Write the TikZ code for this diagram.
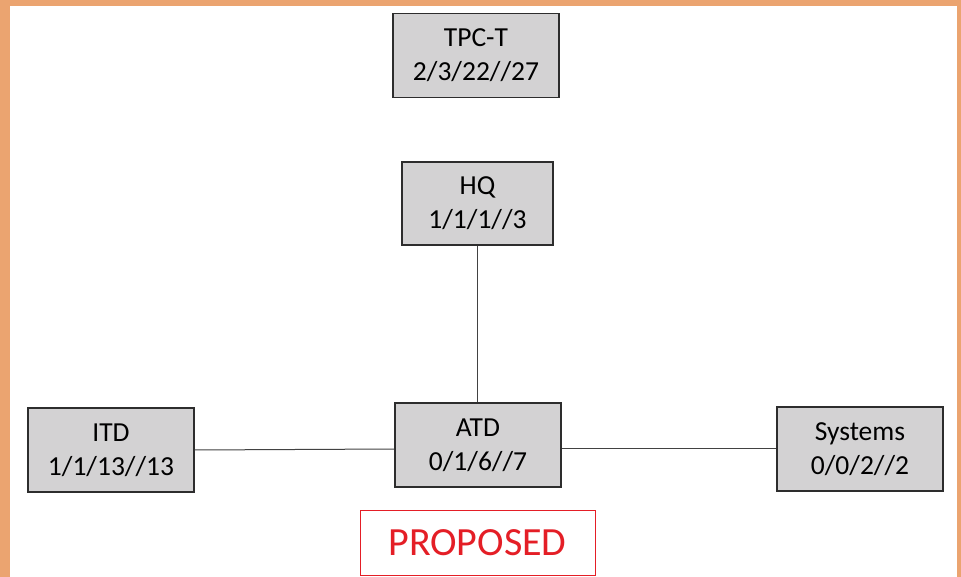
\documentclass[tikz,border=0pt]{standalone}
\usepackage{fontspec}
\setmainfont{Carlito}
\definecolor{frameorange}{RGB}{235,164,112}
\definecolor{boxgray}{RGB}{211,210,211}
\definecolor{boxline}{RGB}{45,45,45}
\definecolor{propred}{RGB}{228,30,38}
\begin{document}
\begin{tikzpicture}[x=1pt,y=-1pt,
  unit/.style={draw=boxline, fill=boxgray, line width=1.3pt, rectangle,
    align=center, inner sep=0pt, font=\fontsize{27.5}{34}\selectfont, text=black},
  link/.style={draw=boxline!90, line width=1pt},
  stamp/.style={draw=propred, line width=1pt, text=propred, inner sep=0pt,
    font=\fontsize{40}{44}\selectfont}]
\useasboundingbox (0,0) rectangle (961,577);
\fill[frameorange] (0,0) rectangle (961,577);
\fill[white] (10,6) rectangle (957,577);
\node[unit, minimum width=166pt, minimum height=84pt] (tpct) at (476,55.5) {TPC-T\\2/3/22//27};
\node[unit, minimum width=151pt, minimum height=83pt] (hq) at (477.5,203.5) {HQ\\1/1/1//3};
\node[unit, minimum width=166pt, minimum height=84pt] (atd) at (478,445) {ATD\\0/1/6//7};
\node[unit, minimum width=166pt, minimum height=84pt] (itd) at (111,450) {ITD\\1/1/13//13};
\node[unit, minimum width=166pt, minimum height=84pt] (sys) at (860,449) {Systems\\0/0/2//2};
\node[stamp, minimum width=235pt, minimum height=65pt] (prop) at (477.5,542.5) {PROPOSED};
\draw[link] (hq.south -| 477,0) -- (atd.north -| 477,0);
\draw[link] (itd.east) -- (atd.west |- 0,449);
\draw[link] (atd.east |- 0,448) -- (sys.west |- 0,448);
\end{tikzpicture}
\end{document}
